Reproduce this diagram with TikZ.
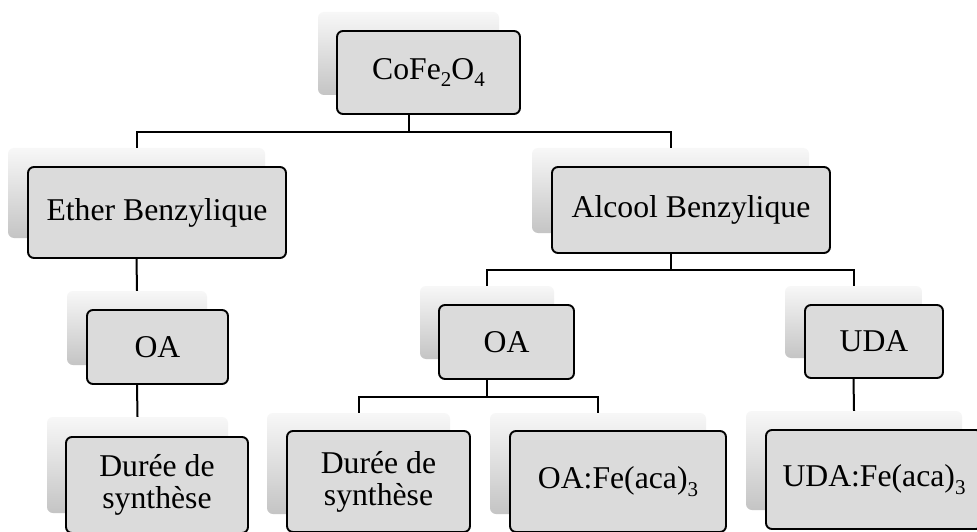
\documentclass[tikz,border=0pt]{standalone}
\usepackage{fontspec}
\setmainfont{Liberation Serif}
\newcommand\lowsub[1]{\raisebox{-0.24em}{\fontsize{21}{21}\selectfont #1}}
\begin{document}
\begin{tikzpicture}[x=1pt,y=-1pt,
  shadowbox/.style={draw=none, rounded corners=6pt, top color=black!3, bottom color=black!23, inner sep=0pt},
  mainbox/.style={draw=black, line width=1.9pt, rounded corners=6pt, fill=black!14, inner sep=0pt, align=center,
    font=\fontsize{31.7}{32}\selectfont},
  conn/.style={draw=black, line width=2pt}]
\clip (0,0) rectangle (977,532);
\fill[white] (0,0) rectangle (977,532);
% level 0
\node[shadowbox, minimum width=181pt, minimum height=83pt] (s1) at (408.5,53.5) {};
\node[mainbox, minimum width=183pt, minimum height=83pt] (b1) at (428.5,72.5) {CoFe\lowsub{2}O\lowsub{4}};
% level 1
\node[shadowbox, minimum width=257pt, minimum height=90pt] (s2) at (136.5,193) {};
\node[mainbox, minimum width=258pt, minimum height=91pt] (b2) at (157,212.5) {Ether Benzylique};
\node[shadowbox, minimum width=277pt, minimum height=85pt] (s3) at (670.5,190.5) {};
\node[mainbox, minimum width=278pt, minimum height=86pt] (b3) at (691,210) {Alcool Benzylique};
% level 2
\node[shadowbox, minimum width=140pt, minimum height=74pt] (s4) at (137,328) {};
\node[mainbox, minimum width=141pt, minimum height=74pt] (b4) at (157.5,347) {OA};
\node[shadowbox, minimum width=134pt, minimum height=73pt] (s5) at (487,322.5) {};
\node[mainbox, minimum width=135pt, minimum height=74pt] (b5) at (506.5,342) {OA};
\node[shadowbox, minimum width=137pt, minimum height=72pt] (s6) at (853.5,322) {};
\node[mainbox, minimum width=138pt, minimum height=73pt] (b6) at (874,341.5) {UDA};
% level 3
\node[shadowbox, minimum width=181pt, minimum height=96pt] (s7) at (137.5,465) {};
\node[mainbox, minimum width=182pt, minimum height=96pt] (b7) at (157,485) {Durée de\\synthèse};
\node[shadowbox, minimum width=183pt, minimum height=101pt] (s8) at (358.5,463.5) {};
\node[mainbox, minimum width=183pt, minimum height=101pt] (b8) at (378.5,481.5) {Durée de\\synthèse};
\node[shadowbox, minimum width=216pt, minimum height=101pt] (s9) at (598,463.5) {};
\node[mainbox, minimum width=216pt, minimum height=101pt] (b9) at (618,481.5) {OA:Fe(aca)\lowsub{3}};
\node[shadowbox, minimum width=216pt, minimum height=99pt] (s10) at (854,460.5) {};
\node[mainbox, minimum width=216pt, minimum height=99pt] (b10) at (874,479.5) {UDA:Fe(aca)\lowsub{3}};
% connectors
\draw[conn] (s1.south |- b1.south) -- ++(0,17) coordinate (j1);
\draw[conn] (s2.north) |- (j1) -| (s3.north);
\draw[conn] (s2.south |- b2.south) -- (s4.north);
\draw[conn] (s4.south |- b4.south) -- (s7.north);
\draw[conn] (s3.south |- b3.south) -- ++(0,16) coordinate (j3);
\draw[conn] (s5.north) |- (j3) -| (s6.north);
\draw[conn] (s5.south |- b5.south) -- ++(0,17) coordinate (j5);
\draw[conn] (s8.north) |- (j5) -| (s9.north);
\draw[conn] (s6.south |- b6.south) -- (s10.north);
\end{tikzpicture}
\end{document}
